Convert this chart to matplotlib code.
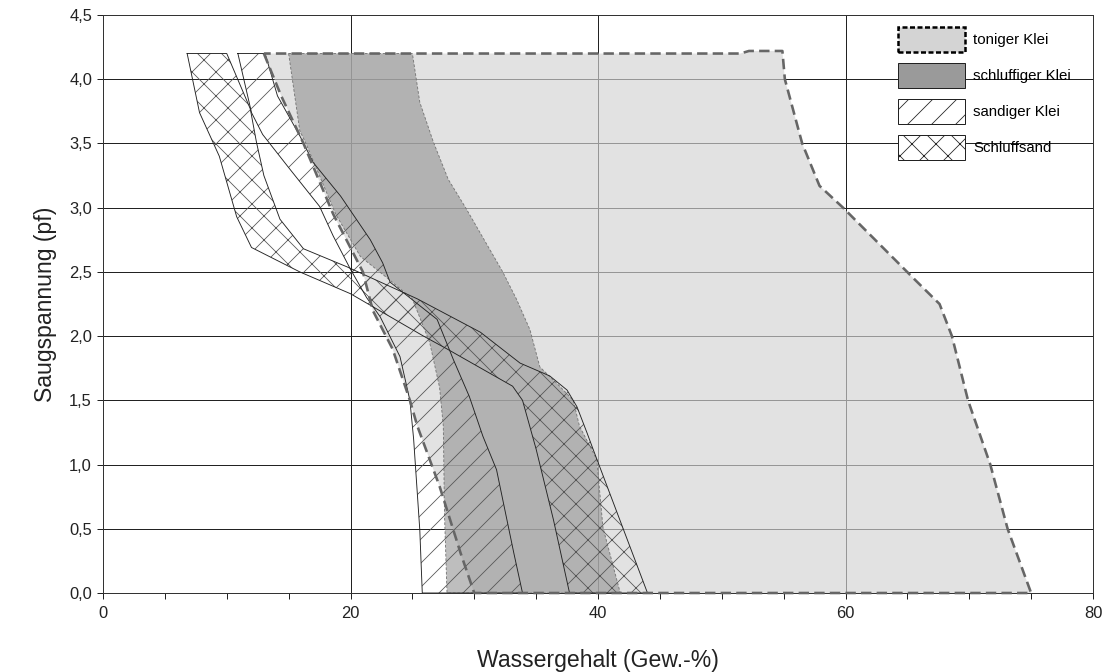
import matplotlib
matplotlib.use("Agg")
import matplotlib.pyplot as plt
from matplotlib.patches import Patch
from matplotlib.ticker import MultipleLocator, FuncFormatter

plt.rcParams['font.family'] = ['Liberation Sans', 'DejaVu Sans']
plt.rcParams['hatch.linewidth'] = 0.8

# pF (y) vs water content (x) band edges
toniger_left_x = [13.0, 14.4, 16.2, 18.6, 21.0, 21.8, 23.4, 24.8, 25.4, 27.2, 28.9, 30.0]
toniger_left_y = [4.2, 3.87, 3.5, 2.95, 2.5, 2.2, 1.9, 1.5, 1.3, 0.83, 0.31, 0.0]
toniger_right_x = [51.5, 52.2, 54.9, 55.1, 56.5, 57.9, 59.8, 65.6, 67.6, 68.6, 69.9, 71.7, 73.1, 75.0]
toniger_right_y = [4.2, 4.22, 4.22, 4.0, 3.5, 3.17, 3.0, 2.44, 2.25, 2.0, 1.5, 1.0, 0.5, 0.0]

schluffklei_left_x = [15.0, 15.9, 16.4, 18.8, 20.8, 23.0, 25.0, 26.4, 27.2, 27.5, 27.6, 27.8]
schluffklei_left_y = [4.2, 3.6, 3.5, 2.95, 2.62, 2.45, 2.29, 1.95, 1.6, 1.3, 0.6, 0.0]
schluffklei_right_x = [25.0, 25.6, 26.7, 27.9, 29.3, 30.5, 32.3, 33.4, 34.5, 35.3, 36.9, 38.0, 38.5, 39.9, 40.4, 41.8]
schluffklei_right_y = [4.2, 3.82, 3.51, 3.22, 3.0, 2.8, 2.5, 2.29, 2.05, 1.76, 1.61, 1.5, 1.3, 1.04, 0.51, 0.0]

sandklei_left_x = [10.9, 12.0, 12.9, 15.1, 17.5, 18.6, 20.0, 21.3, 22.4, 24.0, 24.8, 25.1, 25.6, 25.8]
sandklei_left_y = [4.2, 3.74, 3.57, 3.3, 3.01, 2.78, 2.52, 2.3, 2.15, 1.84, 1.5, 1.2, 0.49, 0.0]
sandklei_right_x = [13.1, 14.1, 15.9, 17.0, 19.2, 21.6, 22.6, 23.2, 27.0, 28.3, 29.6, 30.7, 31.8, 33.2, 33.9]
sandklei_right_y = [4.2, 3.87, 3.56, 3.35, 3.09, 2.75, 2.57, 2.42, 2.13, 1.82, 1.53, 1.22, 0.96, 0.31, 0.0]

schluffsand_left_x = [6.8, 7.8, 9.4, 10.8, 12.0, 15.9, 20.0, 25.9, 27.8, 33.1, 33.9, 35.0, 36.4, 37.7]
schluffsand_left_y = [4.2, 3.74, 3.4, 2.93, 2.69, 2.5, 2.33, 2.0, 1.9, 1.61, 1.5, 1.12, 0.57, 0.0]
schluffsand_right_x = [10.0, 11.9, 12.4, 13.0, 14.3, 16.2, 19.7, 25.4, 30.5, 33.7, 36.1, 37.5, 38.3, 39.1, 39.6, 44.0]
schluffsand_right_y = [4.2, 3.77, 3.51, 3.25, 2.91, 2.68, 2.54, 2.29, 2.03, 1.79, 1.69, 1.58, 1.45, 1.25, 1.12, 0.0]

labels = ['toniger Klei', 'schluffiger Klei', 'sandiger Klei', 'Schluffsand']


def band(lx, ly, rx, ry):
    # closed outline: left edge top->bottom, right edge bottom->top
    xs = lx + rx[::-1] + [lx[0]]
    ys = ly + ry[::-1] + [ly[0]]
    return xs, ys


fig = plt.figure(figsize=(1107 / 72, 672 / 72), dpi=72)
ax = fig.add_axes([103 / 1107, 79 / 672, 990 / 1107, 578 / 672])

# toniger Klei - light grey, thick dashed outline
xs, ys = band(toniger_left_x, toniger_left_y, toniger_right_x, toniger_right_y)
ax.fill(xs, ys, color='0.83', alpha=0.66, lw=0, zorder=1)
ax.plot(xs, ys, color='#666666', lw=2.6, ls=(0, (4, 2)), zorder=6, clip_on=False)

# schluffiger Klei - darker grey, thin dashed outline
xs, ys = band(schluffklei_left_x, schluffklei_left_y, schluffklei_right_x, schluffklei_right_y)
ax.fill(xs, ys, color='0.575', alpha=0.6, lw=0, zorder=2)
ax.plot(xs, ys, color='#777777', lw=0.9, ls=(0, (3, 2)), zorder=2.5)

# sandiger Klei - diagonal hatch
xs, ys = band(sandklei_left_x, sandklei_left_y, sandklei_right_x, sandklei_right_y)
ax.fill(xs, ys, fill=False, hatch='/', edgecolor='#555555', lw=0, zorder=3)
ax.plot(xs, ys, color='#222222', lw=0.9, zorder=4)

# Schluffsand - cross hatch
xs, ys = band(schluffsand_left_x, schluffsand_left_y, schluffsand_right_x, schluffsand_right_y)
ax.fill(xs, ys, fill=False, hatch='x', edgecolor='#555555', lw=0, zorder=3)
ax.plot(xs, ys, color='#222222', lw=0.9, zorder=4)

ax.set_xlim(0, 80)
ax.set_ylim(0, 4.5)
ax.xaxis.set_major_locator(MultipleLocator(20))
ax.xaxis.set_minor_locator(MultipleLocator(5))
ax.yaxis.set_major_locator(MultipleLocator(0.5))
ax.yaxis.set_major_formatter(FuncFormatter(lambda v, p: f"{v:.1f}".replace('.', ',')))
ax.tick_params(which='both', direction='out', length=6, width=1, color='#222222',
               labelsize=16.5, labelcolor='#222222', pad=5)
ax.tick_params(axis='x', pad=7)

ax.set_axisbelow(True)
ax.grid(axis='y', color='#222222', lw=1)
ax.grid(axis='x', which='major', color='#222222', lw=1)
for s in ax.spines.values():
    s.set_color('#333333')
    s.set_linewidth(1)

ax.set_xlabel('Wassergehalt (Gew.-%)', fontsize=23, color='#222222', labelpad=28)
ax.set_ylabel('Saugspannung (pf)', fontsize=23, color='#222222', labelpad=12)

handles = [
    Patch(facecolor='#d4d4d4', edgecolor='black', lw=2.5, ls=(0, (2, 1))),
    Patch(facecolor='#9a9a9a', edgecolor='#222222', lw=1),
    Patch(facecolor='white', edgecolor='#222222', lw=1, hatch='/'),
    Patch(facecolor='white', edgecolor='#222222', lw=1, hatch='x'),
]
ax.legend(handles, labels, loc='upper left', bbox_to_anchor=(0.803, 0.979),
          frameon=False, fontsize=15, handlelength=4.47, handleheight=2.13,
          labelspacing=0.77, handletextpad=0.53, borderpad=0, borderaxespad=0)

fig.savefig('out.png', dpi=72)
